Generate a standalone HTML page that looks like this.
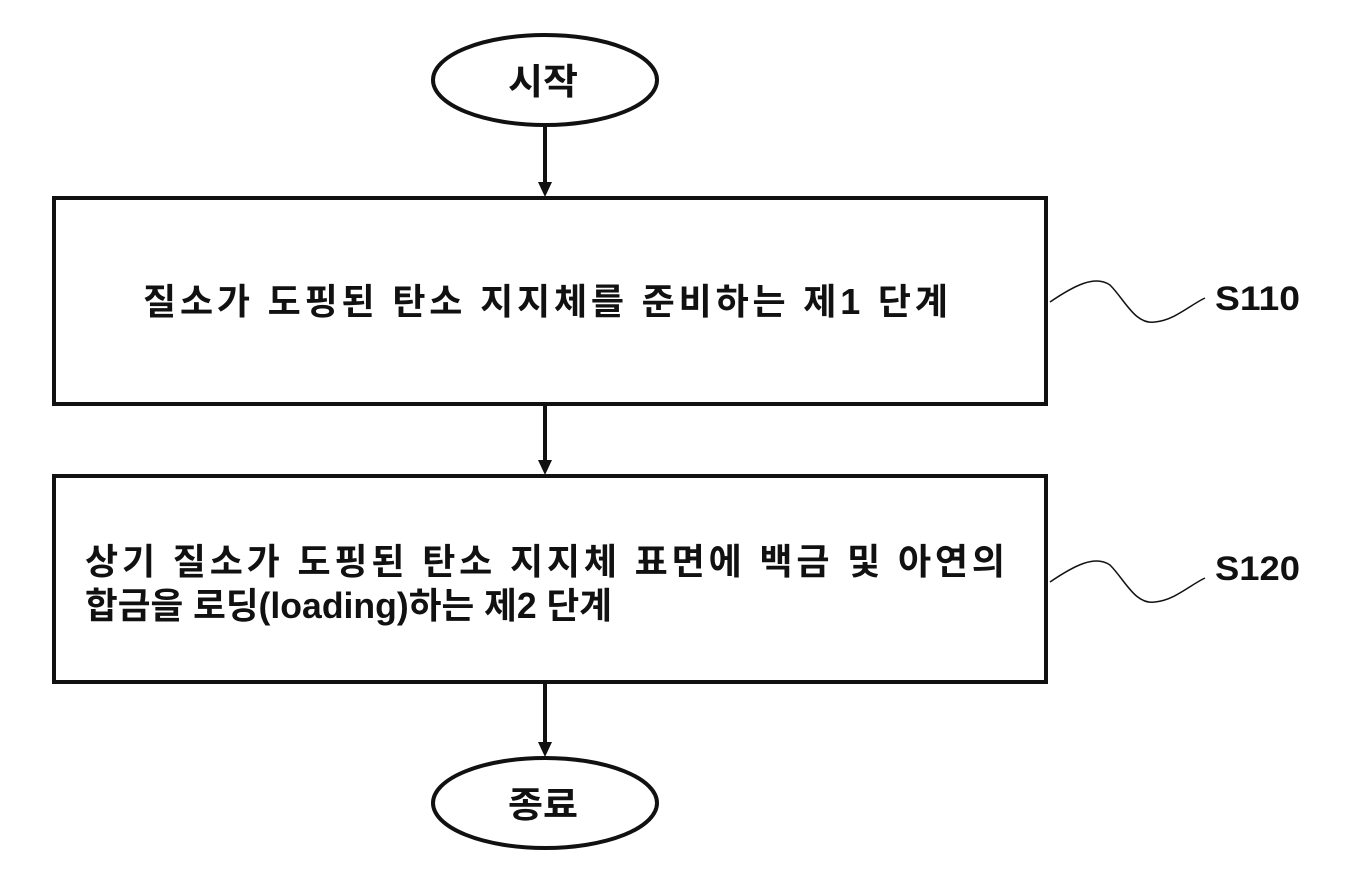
<!DOCTYPE html>
<html><head><meta charset="utf-8"><style>
html,body{margin:0;padding:0;background:#fff;}
svg{display:block;}
text{font-family:"Liberation Sans","Noto Sans CJK KR","NanumGothic",sans-serif;font-weight:bold;fill:#111;}
</style></head><body>
<svg width="1361" height="886" viewBox="0 0 1361 886">
<g stroke="#111" fill="none">
<ellipse cx="545" cy="80" rx="112" ry="45" stroke-width="4"/>
<ellipse cx="545" cy="803" rx="112" ry="45" stroke-width="4"/>
<rect x="54" y="198" width="992" height="206" stroke-width="4"/>
<rect x="54" y="476" width="992" height="206" stroke-width="4"/>
<line x1="545" y1="125" x2="545" y2="185" stroke-width="4"/>
<line x1="545" y1="406" x2="545" y2="463" stroke-width="4"/>
<line x1="545" y1="684" x2="545" y2="745" stroke-width="4"/>
<path d="M1050,302 C1075,285 1095,275 1110,285 C1125,300 1135,325 1155,322 C1175,320 1190,305 1205,298" stroke-width="1.5"/>
<path d="M1050,582 C1075,565 1095,555 1110,565 C1125,580 1135,605 1155,602 C1175,600 1190,585 1205,578" stroke-width="1.5"/>
</g>
<g fill="#111">
<polygon points="538,182 552,182 545,197"/>
<polygon points="538,460 552,460 545,475"/>
<polygon points="538,742 552,742 545,757"/>
</g>
<text x="508" y="94" font-size="36" textLength="70" lengthAdjust="spacingAndGlyphs">시작</text>
<text x="508" y="817" font-size="36" textLength="70" lengthAdjust="spacingAndGlyphs">종료</text>
<text x="143" y="314" font-size="36" textLength="805" lengthAdjust="spacing">질소가 도핑된 탄소 지지체를 준비하는 제1 단계</text>
<text x="85" y="574" font-size="36" textLength="920" lengthAdjust="spacing">상기 질소가 도핑된 탄소 지지체 표면에 백금 및 아연의</text>
<text x="85" y="618" font-size="36" textLength="527" lengthAdjust="spacingAndGlyphs">합금을 로딩(loading)하는 제2 단계</text>
<text x="1215" y="310" font-size="34" textLength="85" lengthAdjust="spacingAndGlyphs">S110</text>
<text x="1215" y="580" font-size="34" textLength="85" lengthAdjust="spacingAndGlyphs">S120</text>
</svg>
</body></html>
